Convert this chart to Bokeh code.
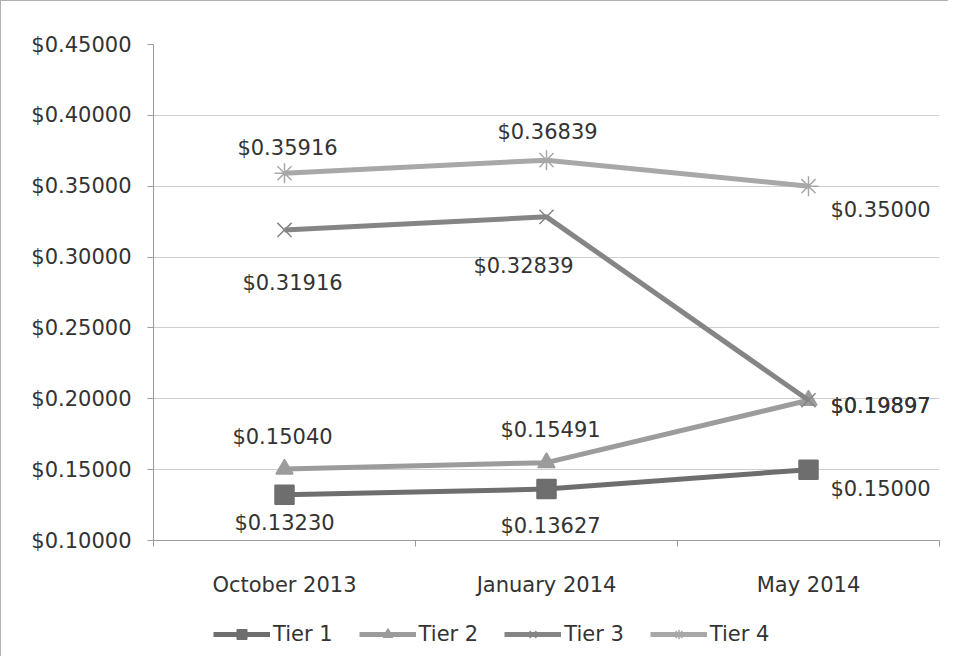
from bokeh.plotting import figure
from bokeh.models import (ColumnDataSource, FixedTicker, NumeralTickFormatter, Range1d,
                          Legend, LegendItem)
from bokeh.layouts import column
from bokeh.core.properties import value
from bokeh.embed import file_html
from bokeh.resources import INLINE

# ---------------- data ----------------
categories = ["October 2013", "January 2014", "May 2014"]
series_names = ["Tier 1", "Tier 2", "Tier 3", "Tier 4"]
tier1 = [0.13230, 0.13627, 0.15000]
tier2 = [0.15040, 0.15491, 0.19897]
tier3 = [0.31916, 0.32839, 0.19897]
tier4 = [0.35916, 0.36839, 0.35000]
y_ticks = [0.10, 0.15, 0.20, 0.25, 0.30, 0.35, 0.40, 0.45]

# ---------------- styles ----------------
FONT = "DejaVu Sans"
FS = "21px"
colors = ["#6e6e6e", "#9c9c9c", "#858585", "#a8a8a8"]
markers = ["square", "triangle", "x", "asterisk"]
marker_sizes = [19, 17, 20, 20]
# label offsets (pixels) per series / point
label_dx = [[0, 4, 72], [-2, 4, 72], [8, -23, 72], [3, 1, 72]]
label_dy = [[28, 37, 19], [-32, -33, 6], [53, 49, 6], [-25, -28, 24]]

xs = [i + 0.5 for i in range(len(categories))]

p = figure(width=948, height=600, output_backend="svg", toolbar_location=None,
           x_range=Range1d(0, len(categories)), y_range=Range1d(y_ticks[0], y_ticks[-1]),
           min_border_left=152, min_border_right=10, min_border_top=43, min_border_bottom=61)
p.styles = {"border-left": "1px solid #b0b0b0", "border-top": "1px solid #b0b0b0"}
p.outline_line_color = None
p.background_fill_color = "white"

# axes
p.xaxis.ticker = FixedTicker(ticks=xs, minor_ticks=list(range(len(categories) + 1)))
p.xaxis.major_label_overrides = {x: c for x, c in zip(xs, categories)}
p.xaxis.major_tick_out = 0
p.xaxis.major_tick_in = 0
p.xaxis.minor_tick_out = 6
p.xaxis.minor_tick_in = 0
p.xaxis.minor_tick_line_color = "#9a9a9a"
p.xaxis.major_label_standoff = 26

p.yaxis.ticker = FixedTicker(ticks=y_ticks)
p.yaxis.formatter = NumeralTickFormatter(format="$0.00000")
p.yaxis.minor_tick_line_color = None
p.yaxis.major_tick_out = 6
p.yaxis.major_tick_in = 0
p.yaxis.major_label_standoff = 16

for ax in (p.xaxis, p.yaxis):
    ax.axis_line_color = "#9a9a9a"
    ax.major_tick_line_color = "#9a9a9a"
    ax.major_label_text_font = FONT
    ax.major_label_text_font_size = FS
    ax.major_label_text_color = "#333333"

p.xgrid.grid_line_color = None
p.ygrid.ticker = FixedTicker(ticks=y_ticks)
p.ygrid.grid_line_color = "#cfcfcf"
p.ygrid.grid_line_width = 1

# legend strip (separate small figure so the legend is not clipped);
# its ranges lie far away from the data so only the legend shows
lg = figure(width=948, height=56, output_backend="svg", toolbar_location=None,
            x_axis_location=None, y_axis_location=None,
            x_range=Range1d(100, 101), y_range=Range1d(100, 101),
            min_border_left=0, min_border_right=0, min_border_top=0, min_border_bottom=0)
lg.grid.visible = False
lg.outline_line_color = None
lg.styles = {"border-left": "1px solid #b0b0b0"}

all_series = [tier1, tier2, tier3, tier4]
items = []
for name, vals, col, mk, ms, dxs, dys in zip(series_names, all_series, colors, markers,
                                              marker_sizes, label_dx, label_dy):
    src = ColumnDataSource(dict(x=xs, y=vals, lab=["$%.5f" % v for v in vals],
                                dx=dxs, dy=dys))
    p.line("x", "y", source=src, line_color=col, line_width=5)
    p.scatter("x", "y", source=src, marker=mk, size=ms, fill_color=col,
              line_color=col, line_width=1.5)
    p.text("x", "y", text="lab", source=src, x_offset="dx", y_offset="dy",
           text_font=value(FONT), text_font_size=FS, text_color="#333333",
           text_align="center", text_baseline="middle")
    lr = lg.line("x", "y", source=src, line_color=col, line_width=5)
    mr = lg.scatter("x", "y", source=src, marker=mk, size=ms, fill_color=col,
                    line_color=col, line_width=1.5)
    items.append(LegendItem(label=name, renderers=[lr, mr]))

legend = Legend(items=items, orientation="horizontal", location=(60, 10),
                glyph_width=57, glyph_height=24, label_standoff=3, spacing=26,
                label_text_font=FONT, label_text_font_size=FS,
                label_text_color="#333333", border_line_color=None,
                background_fill_alpha=0, padding=6, margin=0)
lg.add_layout(legend, "center")

layout = column(p, lg, spacing=0)
open("out.html", "w").write(file_html(layout, INLINE))
